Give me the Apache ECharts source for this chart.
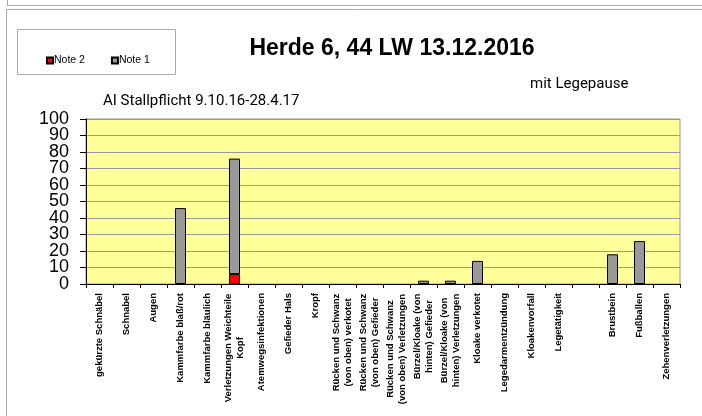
<!DOCTYPE html>
<html>
<head>
<meta charset="utf-8">
<script src="https://cdn.jsdelivr.net/npm/echarts@6/dist/echarts.min.js"></script>
<style>
  html, body { margin: 0; padding: 0; background: #fff; }
  #chart { width: 702px; height: 416px; }
</style>
</head>
<body>
<div id="chart"></div>
<script>
/* Categories as printed on the x axis (line breaks as in the original) */
let categories = [
  "gekürzte Schnäbel",
  "Schnabel",
  "Augen",
  "Kammfarbe blaß/rot",
  "Kammfarbe bläulich",
  "Verletzungen Weichteile\nKopf",
  "Atemwegsinfektionen",
  "Gefieder Hals",
  "Kropf",
  "Rücken und Schwanz\n(von oben) verkotet",
  "Rücken und Schwanz\n(von oben) Gefieder",
  "Rücken und Schwanz\n(von oben) Verletzungen",
  "Bürzel/Kloake (von\nhinten) Gefieder",
  "Bürzel/Kloake (von\nhinten) Verletzungen",
  "Kloake verkotet",
  "Legedarmentzündung",
  "Kloakenvorfall",
  "Legetätigkeit",
  "",
  "Brustbein",
  "Fußballen",
  "Zehenverletzungen",
];

let note2 = [0, 0, 0, 0, 0, 6, 0, 0, 0, 0, 0, 0, 0, 0, 0, 0, 0, 0, 0, 0, 0, 0];
let note1 = [0, 0, 0, 46, 0, 70, 0, 0, 0, 0, 0, 0, 2, 2, 14, 0, 0, 0, 0, 18, 26, 0];

let yTicks = [0, 10, 20, 30, 40, 50, 60, 70, 80, 90, 100];

/* measure text so wrapped labels can centre their lines like the original */
let LABEL_SIZE = 9.5;
let ctx = document.createElement("canvas").getContext("2d");
ctx.font = "bold " + LABEL_SIZE + "px 'Liberation Sans', Arial, sans-serif";
let rich = {};
categories.forEach(function (c, i) {
  let w = 0;
  c.split("\n").forEach(function (l) { w = Math.max(w, ctx.measureText(l).width); });
  rich["l" + i] = { width: Math.ceil(w) + 1, align: "center", fontSize: LABEL_SIZE, fontWeight: "bold", lineHeight: 12, color: "#000" };
});

function noZero(arr) {
  return arr.map(function (v) { return v === 0 ? null : v; });
}

/* the big y labels touch each other, so they are split over two axes
   (even and odd tens) to stop echarts from dropping some of them */
function yAxisFor(odd, main) {
  return {
    type: "value",
    position: "left",
    min: yTicks[0],
    max: yTicks[yTicks.length - 1],
    interval: yTicks[1] - yTicks[0],
    axisLine: { show: main, lineStyle: { color: "#000" } },
    axisTick: { show: main, length: 6, lineStyle: { color: "#000" } },
    splitLine: { show: main, lineStyle: { color: "#999", width: 1 } },
    axisLabel: {
      fontSize: 18,
      color: "#000",
      margin: 17,
      showMinLabel: true,
      showMaxLabel: true,
      formatter: function (v) {
        return (Math.round(v / 10) % 2 === 1) === odd ? String(v) : "";
      },
    },
  };
}

let chart = echarts.init(document.getElementById("chart"), null, { renderer: "canvas" });

chart.setOption({
  animation: false,
  backgroundColor: "#fff",
  textStyle: { fontFamily: "'Liberation Sans', Arial, sans-serif" },
  title: {
    text: "Herde 6, 44 LW 13.12.2016",
    left: 387,
    top: 32,
    textAlign: "center",
    textStyle: { fontSize: 23, fontWeight: "bold", color: "#000" },
  },
  legend: {
    left: 41,
    top: 50,
    itemWidth: 6,
    itemHeight: 6,
    itemGap: 26,
    icon: "rect",
    textStyle: { fontSize: 10.5, color: "#000", padding: [0, 0, 0, -4] },
    data: ["Note 2", "Note 1"],
  },
  grid: { left: 86, top: 119, width: 594, height: 165, show: true, backgroundColor: "#FFFF99", borderColor: "#999", borderWidth: 1 },
  xAxis: {
    type: "category",
    data: categories,
    axisLine: { lineStyle: { color: "#000", width: 1 } },
    axisTick: { show: true, length: 4, lineStyle: { color: "#000" } },
    axisLabel: {
      interval: 0,
      rotate: 90,
      margin: 9,
      fontSize: LABEL_SIZE,
      fontWeight: "bold",
      color: "#000",
      lineHeight: 12,
      rich: rich,
      formatter: function (value, index) {
        if (value.indexOf("\n") < 0) return value;
        return value.split("\n").map(function (l) { return "{l" + index + "|" + l + "}"; }).join("\n");
      },
    },
  },
  yAxis: [yAxisFor(false, true), yAxisFor(true, false)],
  series: [
    {
      name: "Note 2",
      type: "bar",
      stack: "n",
      barWidth: 11,
      data: noZero(note2),
      itemStyle: { color: "#FF0000", borderColor: "#000", borderWidth: 1 },
    },
    {
      name: "Note 1",
      type: "bar",
      stack: "n",
      barWidth: 11,
      data: noZero(note1),
      itemStyle: { color: "#999999", borderColor: "#000", borderWidth: 1 },
    },
  ],
  graphic: [
    { type: "line", shape: { x1: 7, y1: 5.5, x2: 702, y2: 5.5 }, style: { stroke: "#aaa", lineWidth: 1 } },
    { type: "line", shape: { x1: 7.5, y1: 0, x2: 7.5, y2: 5.5 }, style: { stroke: "#aaa", lineWidth: 1 } },
    { type: "rect", shape: { x: 6.5, y: 9.5, width: 800, height: 500 }, style: { fill: "none", stroke: "#aaa", lineWidth: 1 }, z: -1 },
    { type: "rect", shape: { x: 17.5, y: 29.5, width: 158, height: 45 }, style: { fill: "none", stroke: "#aaa", lineWidth: 1 } },
    { type: "text", left: 530, top: 77, style: { text: "mit Legepause", font: "15px Roboto, sans-serif", fill: "#000" } },
    { type: "text", left: 103, top: 94, style: { text: "AI Stallpflicht 9.10.16-28.4.17", font: "15px Roboto, sans-serif", fill: "#000" } },
  ],
});
</script>
</body>
</html>
